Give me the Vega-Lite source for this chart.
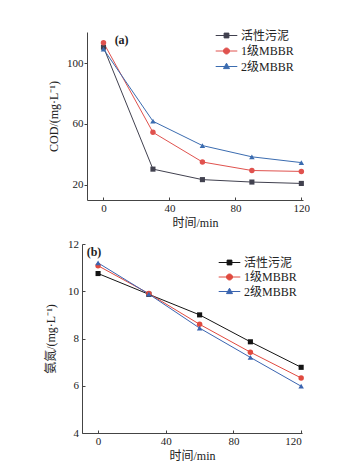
{
  "$schema": "https://vega.github.io/schema/vega-lite/v6.json",
  "background": "white",
  "padding": {"left": 44, "top": 29, "right": 0, "bottom": 0},
  "config": {
    "view": {"stroke": null},
    "axis": {
      "labelFont": "Liberation Serif",
      "labelFontSize": 11,
      "labelColor": "#222222",
      "labelOverlap": false,
      "titleFont": "Liberation Serif, Noto Sans CJK SC",
      "titleFontSize": 12,
      "titleFontWeight": "normal",
      "titleColor": "#222222",
      "domainColor": "#444444",
      "tickColor": "#444444",
      "grid": false
    },
    "legend": {
      "labelFont": "Liberation Serif, Noto Sans CJK SC",
      "labelFontSize": 12,
      "labelColor": "#222222",
      "symbolStrokeWidth": 1
    }
  },
  "datasets": {
    "cod": [
      {"t": 0, "v": 110.5, "s": "活性污泥"},
      {"t": 30, "v": 30.3, "s": "活性污泥"},
      {"t": 60, "v": 23.4, "s": "活性污泥"},
      {"t": 90, "v": 21.8, "s": "活性污泥"},
      {"t": 120, "v": 20.9, "s": "活性污泥"},
      {"t": 0, "v": 113.5, "s": "1级MBBR"},
      {"t": 30, "v": 54.5, "s": "1级MBBR"},
      {"t": 60, "v": 35.0, "s": "1级MBBR"},
      {"t": 90, "v": 29.4, "s": "1级MBBR"},
      {"t": 120, "v": 28.8, "s": "1级MBBR"},
      {"t": 0, "v": 109.3, "s": "2级MBBR"},
      {"t": 30, "v": 61.8, "s": "2级MBBR"},
      {"t": 60, "v": 45.8, "s": "2级MBBR"},
      {"t": 90, "v": 38.4, "s": "2级MBBR"},
      {"t": 120, "v": 34.6, "s": "2级MBBR"}
    ],
    "nh": [
      {"t": 0, "v": 10.75, "s": "活性污泥"},
      {"t": 30, "v": 9.87, "s": "活性污泥"},
      {"t": 60, "v": 9.0, "s": "活性污泥"},
      {"t": 90, "v": 7.86, "s": "活性污泥"},
      {"t": 120, "v": 6.78, "s": "活性污泥"},
      {"t": 0, "v": 11.08, "s": "1级MBBR"},
      {"t": 30, "v": 9.9, "s": "1级MBBR"},
      {"t": 60, "v": 8.6, "s": "1级MBBR"},
      {"t": 90, "v": 7.42, "s": "1级MBBR"},
      {"t": 120, "v": 6.33, "s": "1级MBBR"},
      {"t": 0, "v": 11.2, "s": "2级MBBR"},
      {"t": 30, "v": 9.88, "s": "2级MBBR"},
      {"t": 60, "v": 8.44, "s": "2级MBBR"},
      {"t": 90, "v": 7.2, "s": "2级MBBR"},
      {"t": 120, "v": 5.98, "s": "2级MBBR"}
    ],
    "tagA": [{"label": "(a)"}],
    "tagB": [{"label": "(b)"}]
  },
  "concat": [
    {
      "width": 221,
      "height": 168,
      "layer": [
        {
          "data": {"name": "cod"},
          "encoding": {
            "x": {"field": "t", "type": "quantitative", "scale": {"domain": [-10, 121], "range": [5, 221], "nice": false, "zero": false},
              "axis": {"values": [0, 20, 40, 60, 80, 100, 120], "labelOverlap": false, "title": "时间/min", "tickSize": -3, "labelPadding": 5.5, "titlePadding": 4}},
            "y": {"field": "v", "type": "quantitative", "scale": {"domain": [10, 120.5], "nice": false, "zero": false},
              "axis": {"values": [20, 40, 60, 80, 100, 120], "labelOverlap": false, "title": "COD/(mg·L⁻¹)", "offset": -5, "tickSize": 3, "labelPadding": 1, "titlePadding": 6}},
            "color": {"field": "s", "type": "nominal",
              "scale": {"domain": ["活性污泥", "1级MBBR", "2级MBBR"], "range": ["#41414f", "#e0524e", "#3b6cb0"]},
              "legend": {"orient": "none", "legendX": 138, "legendY": -3, "title": null, "symbolSize": 144, "labelOffset": 8, "rowPadding": 2.5}}
          },
          "layer": [
            {"mark": {"type": "line", "strokeWidth": 1}},
            {"transform": [{"filter": {"field": "s", "equal": "活性污泥"}}],
             "mark": {"type": "point", "filled": true, "size": 26, "opacity": 1, "shape": "square"}},
            {"transform": [{"filter": {"field": "s", "equal": "1级MBBR"}}],
             "mark": {"type": "point", "filled": true, "size": 30, "opacity": 1, "shape": "circle"}},
            {"transform": [{"filter": {"field": "s", "equal": "2级MBBR"}}],
             "mark": {"type": "point", "filled": true, "size": 30, "opacity": 1, "shape": "triangle-up"}},
            {"transform": [{"filter": {"field": "s", "oneOf": []}}],
             "mark": {"type": "point", "filled": true, "opacity": 1},
             "encoding": {
               "shape": {"field": "s", "type": "nominal",
                 "scale": {"domain": ["活性污泥", "1级MBBR", "2级MBBR"],
                   "range": ["M-1.8,0H1.8M-0.4,-0.4H0.4V0.4H-0.4Z", "M-1.8,0H1.8M0.5,0A0.5,0.5,0,1,1,-0.5,0A0.5,0.5,0,1,1,0.5,0Z", "M-1.8,0H1.8M0,-0.55L0.5,0.35L-0.5,0.35Z"]},
                 "legend": {"orient": "none", "legendX": 138, "legendY": -3, "title": null, "symbolSize": 144, "labelOffset": 8, "rowPadding": 2.5}}
             }}
          ]
        },
        {
          "data": {"name": "tagA"},
          "mark": {"type": "text", "font": "Liberation Serif", "fontSize": 12, "fontWeight": "bold", "color": "#222222"},
          "encoding": {
            "x": {"datum": 11, "type": "quantitative"},
            "y": {"datum": 115, "type": "quantitative"},
            "text": {"field": "label", "type": "nominal"}
          }
        }
      ]
    },
    {
      "width": 220,
      "height": 189,
      "layer": [
        {
          "data": {"name": "nh"},
          "encoding": {
            "x": {"field": "t", "type": "quantitative", "scale": {"domain": [-9.5, 120.5], "nice": false, "zero": false},
              "axis": {"values": [0, 20, 40, 60, 80, 100, 120], "labelOverlap": false, "title": "时间/min", "tickSize": -3, "labelPadding": 5.5, "titlePadding": 4}},
            "y": {"field": "v", "type": "quantitative", "scale": {"domain": [4, 12], "nice": false, "zero": false},
              "axis": {"values": [4, 6, 8, 10, 12], "labelOverlap": false, "title": "氨氮/(mg·L⁻¹)", "tickSize": -3, "labelPadding": 6.5, "titlePadding": 10}},
            "color": {"field": "s", "type": "nominal",
              "scale": {"domain": ["活性污泥", "1级MBBR", "2级MBBR"], "range": ["#141414", "#e04a3f", "#3a64b0"]},
              "legend": {"orient": "none", "legendX": 141, "legendY": 12, "title": null, "symbolSize": 144, "labelOffset": 8, "rowPadding": 1.5}}
          },
          "layer": [
            {"mark": {"type": "line", "strokeWidth": 1}},
            {"transform": [{"filter": {"field": "s", "equal": "活性污泥"}}],
             "mark": {"type": "point", "filled": true, "size": 26, "opacity": 1, "shape": "square"}},
            {"transform": [{"filter": {"field": "s", "equal": "1级MBBR"}}],
             "mark": {"type": "point", "filled": true, "size": 30, "opacity": 1, "shape": "circle"}},
            {"transform": [{"filter": {"field": "s", "equal": "2级MBBR"}}],
             "mark": {"type": "point", "filled": true, "size": 30, "opacity": 1, "shape": "triangle-up"}},
            {"transform": [{"filter": {"field": "s", "oneOf": []}}],
             "mark": {"type": "point", "filled": true, "opacity": 1},
             "encoding": {
               "shape": {"field": "s", "type": "nominal",
                 "scale": {"domain": ["活性污泥", "1级MBBR", "2级MBBR"],
                   "range": ["M-1.8,0H1.8M-0.4,-0.4H0.4V0.4H-0.4Z", "M-1.8,0H1.8M0.5,0A0.5,0.5,0,1,1,-0.5,0A0.5,0.5,0,1,1,0.5,0Z", "M-1.8,0H1.8M0,-0.55L0.5,0.35L-0.5,0.35Z"]},
                 "legend": {"orient": "none", "legendX": 141, "legendY": 12, "title": null, "symbolSize": 144, "labelOffset": 8, "rowPadding": 1.5}}
             }}
          ]
        },
        {
          "data": {"name": "tagB"},
          "mark": {"type": "text", "font": "Liberation Serif", "fontSize": 12, "fontWeight": "bold", "color": "#222222"},
          "encoding": {
            "x": {"datum": -2.4, "type": "quantitative"},
            "y": {"datum": 11.65, "type": "quantitative"},
            "text": {"field": "label", "type": "nominal"}
          }
        }
      ]
    }
  ],
  "columns": 1,
  "spacing": 9,
  "resolve": {"scale": {"x": "independent", "y": "independent", "color": "independent", "shape": "independent"}}
}
